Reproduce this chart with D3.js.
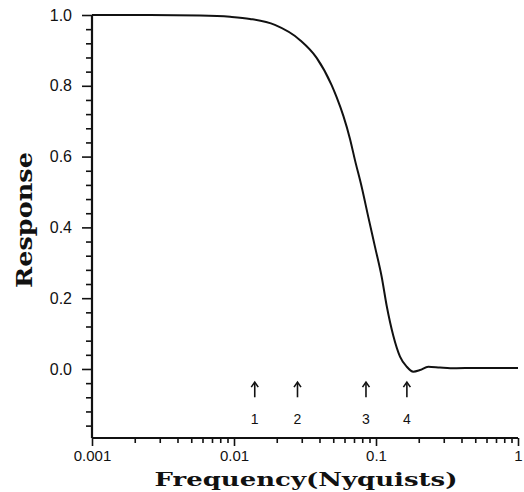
<!DOCTYPE html>
<html>
<head>
<meta charset="utf-8">
<script src="https://cdn.jsdelivr.net/npm/d3@7"></script>
<style>
  body { margin: 0; background: #fff; }
  svg { display: block; }
</style>
</head>
<body>
<div id="chart"></div>
<script>
// response curve
const freq = [0.001, 0.00256, 0.00576, 0.00938, 0.01296, 0.0194, 0.0292, 0.0382, 0.0487, 0.0528,
              0.0589, 0.0656, 0.0711, 0.0793, 0.0883, 0.0984, 0.1097, 0.119, 0.1324, 0.1476,
              0.1645, 0.183, 0.204, 0.2335, 0.282, 0.334, 0.54, 1.0];
const response = [1.0, 1.0, 0.9986, 0.995, 0.989, 0.972, 0.929, 0.879, 0.802, 0.768,
                  0.715, 0.650, 0.590, 0.514, 0.429, 0.345, 0.260, 0.178, 0.094, 0.035,
                  0.0065, -0.0076, -0.003, 0.0065, 0.004, 0.002, 0.003, 0.003];

// marked frequencies (arrows)
const markFreq = [0.014, 0.028, 0.085, 0.165];
const markLabels = ['1', '2', '3', '4'];

const yTicks = [0, 0.2, 0.4, 0.6, 0.8, 1.0];
const yTickLabels = ['0.0', '0.2', '0.4', '0.6', '0.8', '1.0'];
const xTicks = [0.001, 0.01, 0.1, 1];
const xTickLabels = ['0.001', '0.01', '0.1', '1'];

const width = 524, height = 492;
const svg = d3.select('#chart').append('svg')
    .attr('width', width)
    .attr('height', height);

const x = d3.scaleLog().domain([0.001, 1]).range([92, 518]);
const y = d3.scaleLinear().domain([-0.195, 1.0]).range([438, 15]);

const tickFont = '"Liberation Sans", Arial, sans-serif';

// y axis - minor ticks every 0.04
const yMinor = d3.range(-0.16, 1.0, 0.04).filter(v => Math.abs(v * 5 - Math.round(v * 5)) > 1e-6);
svg.append('g')
    .attr('transform', 'translate(92,0)')
    .call(d3.axisLeft(y).tickValues(yMinor).tickSize(6).tickFormat(''))
    .call(g => g.select('.domain').remove())
    .call(g => g.selectAll('text').remove())
    .selectAll('line').attr('stroke', '#111').attr('stroke-width', 1.6);

svg.append('g')
    .attr('transform', 'translate(92,0)')
    .call(d3.axisLeft(y).tickValues(yTicks).tickSize(10).tickPadding(10)
        .tickFormat((d, i) => yTickLabels[i]))
    .call(g => g.select('.domain').attr('stroke', '#111').attr('stroke-width', 2.2)
        .attr('d', 'M0,' + y(1.0) + 'V' + y(-0.195)))
    .call(g => g.selectAll('line').attr('stroke', '#111').attr('stroke-width', 1.6))
    .call(g => g.selectAll('text').attr('fill', '#111')
        .style('font-family', tickFont).style('font-size', '16px'));

// x axis - minor ticks 2..9 per decade
const xMinor = [];
[0.001, 0.01, 0.1].forEach(b => { for (let k = 2; k <= 9; k++) xMinor.push(b * k); });
svg.append('g')
    .attr('transform', 'translate(0,438)')
    .call(d3.axisBottom(x).tickValues(xMinor).tickSize(5).tickFormat(''))
    .call(g => g.select('.domain').remove())
    .call(g => g.selectAll('text').remove())
    .selectAll('line').attr('stroke', '#111').attr('stroke-width', 1.6);

svg.append('g')
    .attr('transform', 'translate(0,438)')
    .call(d3.axisBottom(x).tickValues(xTicks).tickSize(8).tickPadding(4)
        .tickFormat((d, i) => xTickLabels[i]))
    .call(g => g.select('.domain').attr('stroke', '#111').attr('stroke-width', 2.2)
        .attr('d', 'M' + x(0.001) + ',0H' + x(1)))
    .call(g => g.selectAll('line').attr('stroke', '#111').attr('stroke-width', 1.6))
    .call(g => g.selectAll('text').attr('fill', '#111')
        .style('font-family', tickFont).style('font-size', '15px'));

// curve
const line = d3.line()
    .x((d, i) => x(freq[i]))
    .y(d => y(d))
    .curve(d3.curveMonotoneX);

svg.append('path')
    .datum(response)
    .attr('d', line)
    .attr('fill', 'none')
    .attr('stroke', '#111')
    .attr('stroke-width', 2);

// arrows and numbers
const marks = svg.append('g');
markFreq.forEach((f, i) => {
    const cx = x(f);
    const top = y(-0.04);
    marks.append('line')
        .attr('x1', cx).attr('x2', cx)
        .attr('y1', y(-0.08)).attr('y2', top)
        .attr('stroke', '#111').attr('stroke-width', 1.6);
    marks.append('path')
        .attr('d', 'M' + (cx - 3.5) + ',' + (top + 4) + 'L' + cx + ',' + (top - 1) + 'L' + (cx + 3.5) + ',' + (top + 4))
        .attr('fill', 'none')
        .attr('stroke', '#111').attr('stroke-width', 1.6);
    marks.append('text')
        .attr('x', cx)
        .attr('y', y(-0.141))
        .attr('dy', '0.35em')
        .attr('text-anchor', 'middle')
        .style('font-family', tickFont)
        .style('font-size', '14px')
        .attr('fill', '#111')
        .text(markLabels[i]);
});

// axis titles
svg.append('text')
    .attr('x', 306)
    .attr('y', 486)
    .attr('text-anchor', 'middle')
    .attr('textLength', 303)
    .attr('lengthAdjust', 'spacingAndGlyphs')
    .style('font-family', '"DejaVu Serif", "Liberation Serif", serif')
    .style('font-weight', 'bold')
    .style('font-size', '19px')
    .attr('fill', '#111')
    .text('Frequency(Nyquists)');

svg.append('text')
    .attr('transform', 'translate(32,220) rotate(-90)')
    .attr('text-anchor', 'middle')
    .attr('textLength', 136)
    .attr('lengthAdjust', 'spacingAndGlyphs')
    .style('font-family', '"DejaVu Serif", "Liberation Serif", serif')
    .style('font-weight', 'bold')
    .style('font-size', '22px')
    .attr('fill', '#111')
    .text('Response');
</script>
</body>
</html>
